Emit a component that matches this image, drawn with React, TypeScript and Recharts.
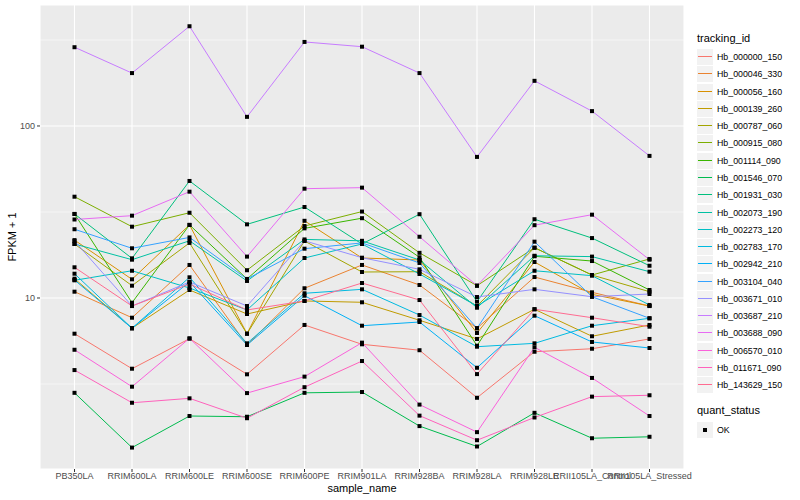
import React from "react"
import {
  LineChart,
  Line,
  XAxis,
  YAxis,
  CartesianGrid,
  ReferenceLine,
} from "recharts"

const categories = [
  "PB350LA",
  "RRIM600LA",
  "RRIM600LE",
  "RRIM600SE",
  "RRIM600PE",
  "RRIM901LA",
  "RRIM928BA",
  "RRIM928LA",
  "RRIM928LE",
  "RRII105LA_Control",
  "RRII105LA_Stressed",
]

const trackingIds = [
  "Hb_000000_150",
  "Hb_000046_330",
  "Hb_000056_160",
  "Hb_000139_260",
  "Hb_000787_060",
  "Hb_000915_080",
  "Hb_001114_090",
  "Hb_001546_070",
  "Hb_001931_030",
  "Hb_002073_190",
  "Hb_002273_120",
  "Hb_002783_170",
  "Hb_002942_210",
  "Hb_003104_040",
  "Hb_003671_010",
  "Hb_003687_210",
  "Hb_003688_090",
  "Hb_006570_010",
  "Hb_011671_090",
  "Hb_143629_150",
]

const colors = [
  "#F8766D", "#EA8331", "#D89000", "#C09B00", "#A3A500",
  "#7CAE00", "#39B600", "#00BB4E", "#00BF7D", "#00C1A3",
  "#00BFC4", "#00BAE0", "#00B0F6", "#35A2FF", "#9590FF",
  "#C77CFF", "#E76BF3", "#FA62DB", "#FF62BC", "#FF6C91",
]

// FPKM + 1, one value per sample
const v000000_150 = [6.2, 3.88, 5.8, 3.6, 6.97, 5.38, 4.97, 2.63, 4.87, 5.07, 5.78]
const v000046_330 = [10.88, 7.68, 15.56, 5.33, 11.39, 15.56, 11.9, 6.67, 13.24, 10.79, 8.98]
const v000056_160 = [21.7, 12.84, 26.6, 6.2, 28.1, 17.08, 16.63, 6.26, 16.19, 10.5, 8.98]
const v000139_260 = [12.95, 6.67, 11.13, 8.07, 9.61, 9.44, 7.42, 5.78, 8.6, 5.99, 6.97]
const v000787_060 = [20.6, 11.79, 20.9, 6.2, 21.45, 14.16, 14.22, 8.98, 19.6, 13.6, 10.88]
const v000915_080 = [38.8, 25.97, 31.3, 14.5, 26.2, 31.8, 18.3, 11.79, 19.6, 13.6, 16.86]
const v001114_090 = [30.8, 9.39, 26.6, 12.9, 25.4, 29.1, 17.25, 5.28, 17.48, 16.4, 11.13]
const v001546_070 = [2.81, 1.35, 2.06, 2.04, 2.81, 2.84, 1.8, 1.37, 2.15, 1.53, 1.56]
const v001931_030 = [30.8, 17.0, 47.9, 26.8, 33.8, 20.6, 30.7, 9.52, 28.7, 22.3, 15.4]
const v002073_190 = [20.6, 16.7, 21.5, 12.56, 21.9, 21.5, 16.63, 8.78, 17.6, 17.4, 14.22]
const v002273_120 = [12.67, 14.4, 11.43, 8.52, 17.08, 20.6, 13.79, 8.98, 14.4, 13.48, 9.11]
const v002783_170 = [13.84, 6.67, 13.19, 5.45, 10.65, 11.23, 7.96, 5.21, 5.45, 6.9, 7.62]
const v002942_210 = [12.72, 6.67, 12.4, 5.33, 10.31, 6.9, 7.25, 3.93, 7.89, 5.55, 5.12]
const v003104_040 = [25.1, 19.45, 22.5, 12.9, 19.35, 20.9, 15.98, 6.67, 21.25, 10.17, 7.62]
const v003671_010 = [21.45, 8.98, 12.39, 8.98, 21.5, 17.15, 14.68, 10.13, 11.23, 10.17, 10.55]
const v003687_210 = [287, 203, 380, 113, 308, 289, 203, 66.1, 183, 122, 67]
const v003688_090 = [28.6, 30.1, 41.5, 17.4, 43.2, 43.8, 22.7, 11.79, 26.5, 30.5, 16.7]
const v006570_010 = [5.0, 3.05, 5.83, 2.8, 3.49, 5.5, 2.4, 1.66, 5.17, 3.43, 2.06]
const v011671_090 = [3.81, 2.46, 2.61, 2.0, 3.03, 4.3, 2.07, 1.49, 2.02, 2.67, 2.72]
const v143629_150 = [15.08, 8.98, 12.06, 8.52, 9.61, 12.22, 9.73, 3.61, 8.6, 7.68, 6.81]

const seriesValues = [
  v000000_150, v000046_330, v000056_160, v000139_260, v000787_060,
  v000915_080, v001114_090, v001546_070, v001931_030, v002073_190,
  v002273_120, v002783_170, v002942_210, v003104_040, v003671_010,
  v003687_210, v003688_090, v006570_010, v011671_090, v143629_150,
]

const yTicks = [10, 100]
const yMinor = [Math.sqrt(10), Math.sqrt(1000), Math.sqrt(100000)]

const chartData = categories.map((name, i) => {
  const row: Record<string, number | string> = { sample_name: name }
  trackingIds.forEach((id, s) => {
    row[id] = seriesValues[s][i]
  })
  return row
})

const FONT = "'Liberation Sans', Arial, sans-serif"

function SquareDot(props: any) {
  const { cx, cy } = props
  if (cx == null || cy == null) return null
  return <rect x={cx - 2} y={cy - 2} width={4} height={4} fill="#000" />
}

function LegendBlock() {
  const top0 = 48
  const step = 17.28
  return (
    <div style={{ position: "absolute", left: 697, top: 0, fontFamily: FONT }}>
      <div style={{ position: "absolute", top: 32, left: 0, fontSize: 11, whiteSpace: "nowrap" }}>
        tracking_id
      </div>
      {trackingIds.map((id, i) => (
        <div key={id} style={{ position: "absolute", top: Math.round(top0 + i * step), left: 0, height: 17, display: "flex", alignItems: "center" }}>
          <div style={{ width: 16, height: 16, background: "#F2F2F2", position: "relative" }}>
            <div style={{ position: "absolute", left: 1, right: 1, top: 7, height: 1.5, background: colors[i] }} />
          </div>
          <span style={{ marginLeft: 4, fontSize: 8.8, color: "#000", whiteSpace: "nowrap" }}>{id}</span>
        </div>
      ))}
      <div style={{ position: "absolute", top: 404, left: 0, fontSize: 11, whiteSpace: "nowrap" }}>
        quant_status
      </div>
      <div style={{ position: "absolute", top: 421, left: 0, height: 17, display: "flex", alignItems: "center" }}>
        <div style={{ width: 16, height: 16, background: "#F2F2F2", position: "relative" }}>
          <div style={{ position: "absolute", left: 6, top: 6, width: 4, height: 4, background: "#000" }} />
        </div>
        <span style={{ marginLeft: 4, fontSize: 8.8, whiteSpace: "nowrap" }}>OK</span>
      </div>
    </div>
  )
}

export default function App() {
  return (
    <div style={{ position: "absolute", left: 0, top: 0, width: 800, height: 500, background: "#fff", fontFamily: FONT }}>
      <LineChart
        width={800}
        height={500}
        data={chartData}
        margin={{ top: 5, right: 116, left: 0, bottom: 0 }}
      >
        <CartesianGrid fill="#EBEBEB" fillOpacity={1} stroke="#FFFFFF" strokeWidth={1.1} />
        {yMinor.map((y) => (
          <ReferenceLine key={y} y={y} stroke="#FFFFFF" strokeWidth={0.55} ifOverflow="hidden" />
        ))}
        <XAxis
          dataKey="sample_name"
          interval={0}
          padding={{ left: 34.5, right: 34.5 }}
          axisLine={false}
          tickLine={{ stroke: "#333333" }}
          tickSize={3}
          tickMargin={1}
          height={31}
          tick={{ fill: "#4D4D4D", fontSize: 9 }}
          label={{ value: "sample_name", position: "insideBottom", offset: 8, fill: "#000", fontSize: 11 }}
        />
        <YAxis
          scale="log"
          domain={[1.0135, 505]}
          allowDataOverflow
          ticks={yTicks}
          width={40}
          axisLine={false}
          tickLine={{ stroke: "#333333" }}
          tickSize={3}
          tickMargin={2}
          tick={{ fill: "#4D4D4D", fontSize: 9 }}
          label={{ value: "FPKM + 1", angle: -90, position: "insideLeft", offset: 12, fill: "#000", fontSize: 11, style: { textAnchor: "middle" } }}
        />
        {trackingIds.map((id, i) => (
          <Line
            key={id}
            type="linear"
            dataKey={id}
            stroke={colors[i]}
            strokeWidth={1}
            dot={false}
            activeDot={false}
            isAnimationActive={false}
          />
        ))}
        {trackingIds.map((id) => (
          <Line
            key={id + "_pts"}
            type="linear"
            dataKey={id}
            stroke="none"
            dot={<SquareDot />}
            activeDot={false}
            legendType="none"
            isAnimationActive={false}
          />
        ))}
      </LineChart>
      <LegendBlock />
    </div>
  )
}
